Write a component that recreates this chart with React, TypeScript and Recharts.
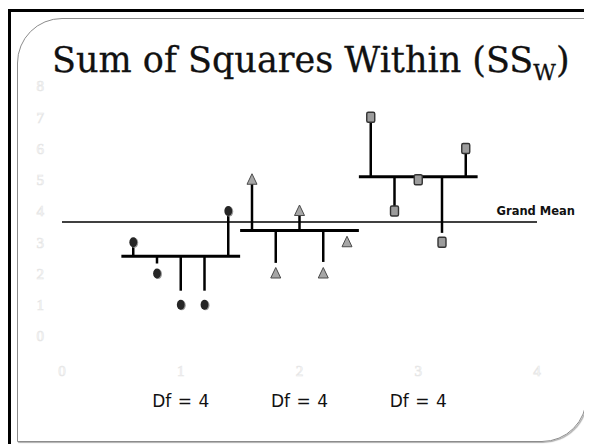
import { ScatterChart, Scatter, XAxis, YAxis, ReferenceLine } from 'recharts';

// x positions and values
const group1X = [0.6, 0.8, 1.0, 1.2, 1.4];
const group1Y = [3, 2, 1, 1, 4];
const group1Stem = [3, 2.32, 1.45, 1.45, 3.85];

const group2X = [1.6, 1.8, 2.0, 2.2, 2.4];
const group2Y = [5, 2, 4, 2, 3];
const group2Stem = [4.9, 2.34, 3.85, 2.37, null];

const group3X = [2.6, 2.8, 3.0, 3.2, 3.4];
const group3Y = [7, 4, 5, 3, 6];
const group3Stem = [6.9, 4.16, null, 3.3, 5.85];

const groupCenters = [1, 2, 3];
const groupMeans = [2.55, 3.38, 5.1];
const grandMean = 3.65;
const dfLabels = ['Df = 4', 'Df = 4', 'Df = 4'];

const xTicks = [0, 1, 2, 3, 4];
const yTicks = [0, 1, 2, 3, 4, 5, 6, 7, 8];

const toPoints = (xs: number[], ys: number[]) => xs.map((x, i) => ({ x, y: ys[i] }));

const group1 = toPoints(group1X, group1Y);
const group2 = toPoints(group2X, group2Y);
const group3 = toPoints(group3X, group3Y);

const stems = [
    { xs: group1X, ends: group1Stem, mean: groupMeans[0] },
    { xs: group2X, ends: group2Stem, mean: groupMeans[1] },
    { xs: group3X, ends: group3Stem, mean: groupMeans[2] },
];

// the axis numbers are barely visible on the slide
const faint = { fill: '#ffffff', stroke: '#e6e6e6', strokeWidth: 0.7, fontSize: 15, fontFamily: 'Liberation Serif' };

const Dot = (props: any) => {
    const { cx, cy } = props;
    return (
        <g>
            <ellipse cx={cx + 1} cy={cy + 0.6} rx={4} ry={5} fill="#9a9a9a" />
            <ellipse cx={cx} cy={cy} rx={3.9} ry={4.9} fill="#262626" />
        </g>
    );
};

const Tri = (props: any) => {
    const { cx, cy } = props;
    return <path d={`M${cx},${cy - 6} L${cx + 5},${cy + 4.5} L${cx - 5},${cy + 4.5} Z`} fill="#a6a6a6" stroke="#4a4a4a" strokeWidth={1} />;
};

const Sq = (props: any) => {
    const { cx, cy } = props;
    return <rect x={cx - 4} y={cy - 5} width={8} height={10} rx={1.5} fill="#9c9c9c" stroke="#333" strokeWidth={1.4} />;
};

const XTick = (props: any) => {
    const { x, y, payload } = props;
    const idx = groupCenters.indexOf(payload.value);
    return (
        <g>
            <text x={x} y={y + 27} dy="0.35em" textAnchor="middle" {...faint}>{payload.value}</text>
            {idx >= 0 && (
                <text x={x} y={y + 57} dy="0.35em" textAnchor="middle" fill="#111" fontSize={17} fontFamily="DejaVu Sans" style={{ wordSpacing: 1 }}>
                    {dfLabels[idx]}
                </text>
            )}
        </g>
    );
};

const YTick = (props: any) => {
    const { x, y, payload } = props;
    return <text x={x} y={y} dy="0.35em" textAnchor="end" {...faint}>{payload.value}</text>;
};

const GrandLabel = (props: any) => {
    const { viewBox } = props;
    return (
        <text x={viewBox.x + viewBox.width + 38} y={viewBox.y - 7} textAnchor="end" fill="#111" fontSize={11.5} fontWeight="bold" fontFamily="DejaVu Sans">
            Grand Mean
        </text>
    );
};

export default function App() {
    return (
        <div style={{ position: 'relative', width: 584, height: 436, borderTop: '3px solid #000', borderLeft: '3px solid #000', boxSizing: 'border-box', background: '#fff', marginTop: 1 }}>
            <div style={{ position: 'absolute', left: 6, top: 6, width: 570, height: 424, border: '1.5px solid #8c8c8c', borderTopLeftRadius: 45, borderBottomRightRadius: 45, boxShadow: '1px 1px 1px #b0b0b0', boxSizing: 'border-box' }} />
            <div style={{ position: 'absolute', left: 41, top: 28, fontFamily: 'DejaVu Serif', fontSize: 35, color: '#111', whiteSpace: 'nowrap', WebkitTextStroke: '0.3px #111' }}>
                Sum of Squares Within (SS<sub style={{ fontSize: 22 }}>W</sub>)
            </div>
            <div style={{ position: 'absolute', left: 0, top: 0 }}>
                <ScatterChart width={573} height={433} margin={{ top: 74, right: 47, bottom: 29, left: 11 }}>
                    <XAxis type="number" dataKey="x" domain={[0, 4]} ticks={xTicks} height={80} axisLine={false} tickLine={false} tick={<XTick />} interval={0} />
                    <YAxis type="number" dataKey="y" domain={[0, 8]} ticks={yTicks} width={40} axisLine={false} tickLine={false} tickMargin={12} tick={<YTick />} interval={0} />
                    <ReferenceLine y={grandMean} stroke="#000" strokeWidth={1.5} label={<GrandLabel />} />
                    {groupCenters.map((c, i) => (
                        <ReferenceLine key={`m${i}`} segment={[{ x: c - 0.5, y: groupMeans[i] }, { x: c + 0.5, y: groupMeans[i] }]} stroke="#000" strokeWidth={3} />
                    ))}
                    {stems.flatMap((g, gi) =>
                        g.xs.map((x, i) =>
                            g.ends[i] == null ? null : (
                                <ReferenceLine key={`s${gi}-${i}`} segment={[{ x, y: g.mean }, { x, y: g.ends[i] as number }]} stroke="#000" strokeWidth={2.5} />
                            )
                        )
                    )}
                    <Scatter data={group1} shape={<Dot />} isAnimationActive={false} />
                    <Scatter data={group2} shape={<Tri />} isAnimationActive={false} />
                    <Scatter data={group3} shape={<Sq />} isAnimationActive={false} />
                </ScatterChart>
            </div>
        </div>
    );
}
